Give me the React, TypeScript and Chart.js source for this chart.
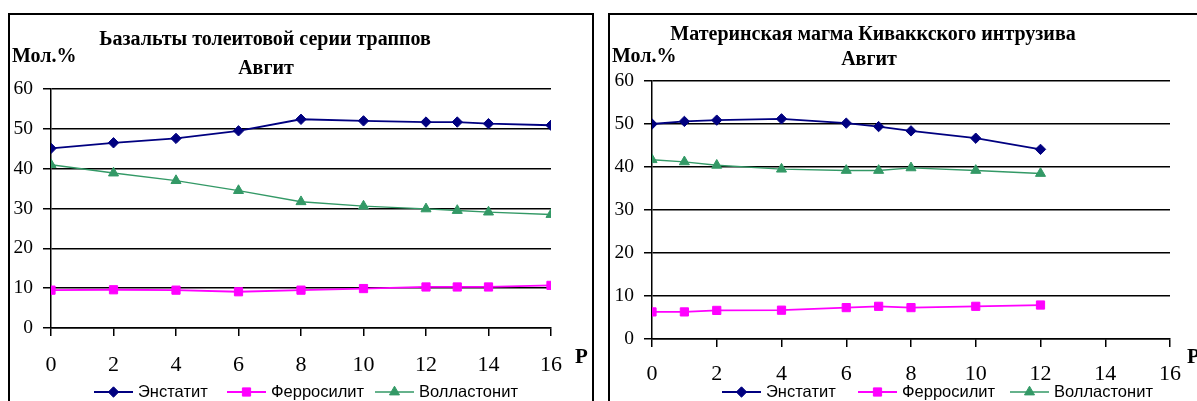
import { useEffect, useRef } from "react";
import { Chart, registerables } from "chart.js";
import { drawPoint } from "chart.js/helpers";

Chart.register(...registerables);

// ---- data ----
const seriesNames = ["Энстатит", "Ферросилит", "Волластонит"];

const leftP = [0, 2, 4, 6, 8, 10, 12, 13, 14, 16];
const leftEnstatite = [45.1, 46.5, 47.6, 49.5, 52.4, 52.0, 51.7, 51.7, 51.3, 50.9];
const leftFerrosilite = [9.5, 9.6, 9.5, 9.1, 9.5, 9.9, 10.3, 10.3, 10.3, 10.7];
const leftWollastonite = [41.0, 38.9, 37.0, 34.5, 31.7, 30.6, 29.9, 29.5, 29.1, 28.5];

const rightP = [0, 1, 2, 4, 6, 7, 8, 10, 12];
const rightEnstatite = [50.0, 50.6, 50.9, 51.2, 50.2, 49.4, 48.4, 46.7, 44.1];
const rightFerrosilite = [6.3, 6.3, 6.65, 6.7, 7.3, 7.6, 7.3, 7.6, 7.9];
const rightWollastonite = [41.7, 41.2, 40.4, 39.5, 39.2, 39.2, 39.8, 39.2, 38.5];

const leftTitle = ["Ьазальты толеитовой серии траппов", "Авгит"];
const rightTitle = ["Материнская магма Киваккского интрузива", "Авгит"];
const yAxisLabel = "Мол.%";
const xAxisLabel = "P";

const xMin = 0, xMax = 16, xStep = 2;
const yMin = 0, yMax = 60, yStep = 10;

const colors = ["#000080", "#FF00FF", "#339966"];
const styles = ["rectRot", "rect", "triangle"];
const radii = [5.2, 5.8, 5.8];
const widths = [1.8, 1.8, 1.4];

const serif = "'Liberation Serif', 'Times New Roman', serif";
const sans = "'Liberation Sans', Arial, sans-serif";

const decorPlugin = {
  id: "decor",
  afterDraw(chart: any, _args: any, opts: any) {
    const ctx = chart.ctx;
    ctx.save();
    ctx.fillStyle = "#000";
    ctx.textBaseline = "alphabetic";
    ctx.font = `bold 20px ${serif}`;
    ctx.textAlign = "center";
    opts.title.forEach((t: any) => ctx.fillText(t.text, t.x, t.y));
    ctx.textAlign = "left";
    ctx.fillText(opts.yLabel.text, opts.yLabel.x, opts.yLabel.y);
    ctx.font = `bold 21px ${serif}`;
    ctx.fillText(opts.xLabel.text, opts.xLabel.x, opts.xLabel.y);

    // legend
    const ly = opts.legend.y;
    chart.data.datasets.forEach((ds: any, i: number) => {
      const x0 = opts.legend.xs[i];
      ctx.strokeStyle = ds.borderColor;
      ctx.lineWidth = ds.borderWidth;
      ctx.beginPath();
      ctx.moveTo(x0, ly);
      ctx.lineTo(x0 + 39, ly);
      ctx.stroke();
      ctx.fillStyle = ds.backgroundColor;
      ctx.strokeStyle = ds.borderColor;
      ctx.lineWidth = 1;
      drawPoint(ctx, { pointStyle: ds.pointStyle, radius: ds.pointRadius, rotation: 0, borderWidth: 1 }, x0 + 19.5, ly);
      ctx.fillStyle = "#000";
      ctx.font = `16.5px ${sans}`;
      ctx.textBaseline = "middle";
      ctx.fillText(ds.label, x0 + 44, ly + 0.5);
    });
    ctx.restore();
  },
};

function makeConfig(p: number[], series: number[][], padding: any, xPad: number, decor: any): any {
  return {
    type: "line",
    data: {
      datasets: series.map((vals, i) => ({
        label: seriesNames[i],
        data: p.map((x, j) => ({ x, y: vals[j] })),
        borderColor: colors[i],
        backgroundColor: colors[i],
        pointBackgroundColor: colors[i],
        pointBorderColor: colors[i],
        pointStyle: styles[i],
        pointRadius: radii[i],
        pointBorderWidth: 1,
        borderWidth: widths[i],
        tension: 0,
        fill: false,
      })),
    },
    options: {
      animation: false,
      responsive: false,
      events: [],
      layout: { padding },
      plugins: {
        legend: { display: false },
        title: { display: false },
        tooltip: { enabled: false },
        decor,
      },
      scales: {
        x: {
          type: "linear",
          min: xMin,
          max: xMax,
          ticks: {
            stepSize: xStep,
            color: "#000",
            font: { family: serif, size: 22 },
            padding: xPad,
            maxRotation: 0,
            autoSkip: false,
          },
          grid: { drawOnChartArea: false, drawTicks: true, tickLength: 8, color: "#000", lineWidth: 1.5 },
          border: { display: true, color: "#000", width: 1.5 },
          afterFit: (s: any) => { s.height = 52; },
        },
        y: {
          min: yMin,
          max: yMax,
          ticks: {
            stepSize: yStep,
            color: "#000",
            font: { family: serif, size: 19.5 },
            padding: 10,
          },
          grid: { color: "#000", lineWidth: 1.5, tickLength: 8, drawTicks: true },
          border: { display: true, color: "#000", width: 1.5 },
          afterFit: (s: any) => { s.width = 45; },
        },
      },
    },
    plugins: [decorPlugin],
  };
}

function ChartCanvas({ config, left, width }: { config: any; left: number; width: number }) {
  const ref = useRef<HTMLCanvasElement>(null);
  useEffect(() => {
    if (!ref.current) return;
    const c = new Chart(ref.current, config);
    return () => c.destroy();
  }, [config]);
  return (
    <canvas
      ref={ref}
      width={width}
      height={401}
      style={{ position: "absolute", left, top: 0, width, height: 401, display: "block" }}
    />
  );
}

const leftConfig = makeConfig(
  leftP,
  [leftEnstatite, leftFerrosilite, leftWollastonite],
  { left: 6, right: 49, top: 89, bottom: 21 },
  16,
  {
    title: [
      { text: leftTitle[0], x: 265, y: 45 },
      { text: leftTitle[1], x: 266, y: 74 },
    ],
    yLabel: { text: yAxisLabel, x: 12, y: 62 },
    xLabel: { text: xAxisLabel, x: 575, y: 363 },
    legend: { y: 392, xs: [94, 227, 375] },
  }
);

const rightConfig = makeConfig(
  rightP,
  [rightEnstatite, rightFerrosilite, rightWollastonite],
  { left: 7, right: 27, top: 81, bottom: 10 },
  14,
  {
    title: [
      { text: rightTitle[0], x: 273, y: 40 },
      { text: rightTitle[1], x: 269, y: 65 },
    ],
    yLabel: { text: yAxisLabel, x: 12, y: 61.5 },
    xLabel: { text: xAxisLabel, x: 587, y: 363 },
    legend: { y: 392, xs: [122, 258, 410] },
  }
);

export default function App() {
  return (
    <div
      style={{
        position: "absolute",
        left: 0,
        top: 0,
        width: 1197,
        height: 401,
        overflow: "hidden",
        background: "#fff",
      }}
    >
      <div
        style={{
          position: "absolute",
          left: 8,
          top: 13,
          width: 586,
          height: 430,
          border: "2px solid #000",
          boxSizing: "border-box",
        }}
      />
      <div
        style={{
          position: "absolute",
          left: 608,
          top: 13,
          width: 620,
          height: 430,
          border: "2px solid #000",
          boxSizing: "border-box",
        }}
      />
      <ChartCanvas config={leftConfig} left={0} width={600} />
      <ChartCanvas config={rightConfig} left={600} width={597} />
    </div>
  );
}
